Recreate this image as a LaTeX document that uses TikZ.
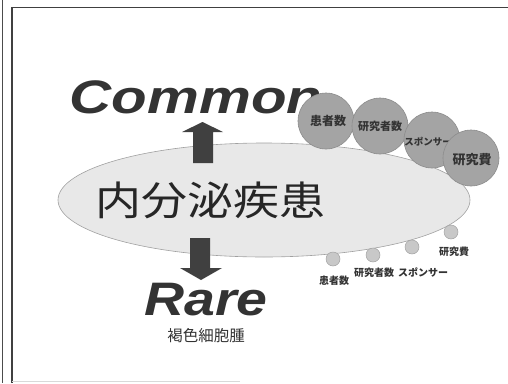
\documentclass[tikz,border=0pt]{standalone}
\usepackage{fontspec}
\usetikzlibrary{shapes.geometric}
\setmainfont{Liberation Sans}
\newfontfamily\cjk{Noto Sans CJK JP}
\definecolor{arrowgray}{HTML}{404040}
\definecolor{textgray}{HTML}{333333}
\definecolor{ellfill}{HTML}{E8E8E8}
\definecolor{ellline}{HTML}{A0A0A0}
\definecolor{bigfill}{HTML}{A4A4A4}
\definecolor{bigline}{HTML}{8C8C8C}
\definecolor{smallfill}{HTML}{C8C8C8}
\definecolor{smallline}{HTML}{A2A2A2}
\tikzset{
  bigcirc/.style={circle, fill=bigfill, draw=bigline, line width=0.6pt, minimum size=56pt, inner sep=0pt},
  smallcirc/.style={circle, fill=smallfill, draw=smallline, line width=0.5pt, minimum size=14pt, inner sep=0pt},
  biglabel/.style={font=\cjk\bfseries, text=textgray, inner sep=0pt},
  smalllabel/.style={font=\cjk\bfseries\fontsize{10}{10}\selectfont, text=textgray, inner sep=0pt},
  blockarrow/.style={fill=arrowgray, draw=none},
  title/.style={font=\bfseries\itshape\fontsize{47}{47}\selectfont, text=textgray, inner sep=0pt, anchor=base}
}
\begin{document}
\begin{tikzpicture}[x=1pt,y=-1pt]
\useasboundingbox (0,0) rectangle (508,383);
% frame
\draw[line width=1pt, black!70] (2.5,0) -- (2.5,383);
\draw[line width=1.2pt, black!75] (12,383) -- (12,7.5) -- (508,7.5);
\draw[line width=0.8pt, black!15] (12,381.5) -- (240,381.5);
% ellipse
\node[ellipse, fill=ellfill, draw=ellline, line width=0.6pt, minimum width=412pt, minimum height=114pt, inner sep=0pt] (ell) at (264,200) {};
% common text
\node[title, xscale=1.24] (common) at (196,113) {Common};
% arrows
\fill[blockarrow] (193,163) -- (193,132) -- (182,132) -- (202.5,122) -- (223,132) -- (213,132) -- (213,163) -- cycle;
\fill[blockarrow] (190,238) -- (190,268) -- (180,268) -- (201,280) -- (222,268) -- (210,268) -- (210,238) -- cycle;
% main text
\node[font=\cjk\fontsize{40}{40}\selectfont, text=black!85, xscale=1.15, inner sep=0pt, anchor=base] (main) at (210,215) {内分泌疾患};
\node[title, xscale=1.18] (rare) at (206,315) {Rare};
\node[font=\cjk\fontsize{15.5}{15.5}\selectfont, text=textgray, inner sep=0pt] (pheo) at (206,335.5) {褐色細胞腫};
% big circles
\node[bigcirc] (b1) at (326,121) {};
\node[bigcirc] (b2) at (380,126) {};
\node[bigcirc] (b3) at (432,140) {};
\node[biglabel, font=\cjk\bfseries\fontsize{9.5}{9.5}\selectfont] (l3) at (428,142) {スポンサー};
\node[bigcirc] (b4) at (471,158) {};
\node[biglabel, font=\cjk\bfseries\fontsize{12}{12}\selectfont] (l1) at (328,121) {患者数};
\node[biglabel, font=\cjk\bfseries\fontsize{11}{11}\selectfont] (l2) at (380,126) {研究者数};
\node[biglabel, font=\cjk\bfseries\fontsize{13}{13}\selectfont] (l4) at (472,160) {研究費};
% small circles
\node[smallcirc] (s1) at (333,259) {};
\node[smallcirc] (s2) at (373,255) {};
\node[smallcirc] (s3) at (412,247) {};
\node[smallcirc] (s4) at (451,232) {};
\node[smalllabel] (m1) at (334,281) {患者数};
\node[smalllabel] (m2) at (374,273) {研究者数};
\node[smalllabel] (m3) at (423,272) {スポンサー};
\node[smalllabel] (m4) at (454,252) {研究費};
\end{tikzpicture}
\end{document}
